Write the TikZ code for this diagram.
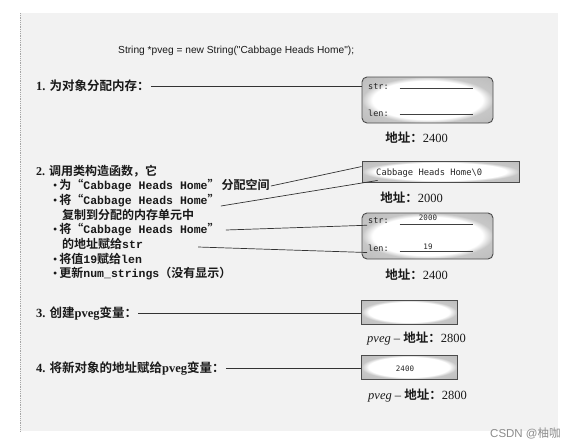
\documentclass[tikz,border=0pt]{standalone}
\usepackage{fontspec}
\setmainfont{Liberation Serif}
\newfontfamily\zhfont{Noto Sans CJK SC}[BoldFont={* Bold}]
\newfontfamily\monob{Liberation Mono}
\newfontfamily\boxmono{DejaVu Sans Mono}
\newfontfamily\codefont{Liberation Sans}
\newcommand\zh[1]{{\zhfont\bfseries #1}}
\newcommand\mb[1]{{\monob\bfseries\fontsize{11.5}{14}\selectfont #1}}
\usetikzlibrary{calc}
\pgfdeclareradialshading{boxglow}{\pgfpoint{0bp}{0bp}}{color(0bp)=(white); color(21bp)=(white); color(25bp)=(black!22); color(50bp)=(black!32)}
\begin{document}
\begin{tikzpicture}[x=1pt,y=-1pt,
  txt/.style={inner sep=1pt, text=black!90, anchor=west},
  head/.style={txt, font=\fontsize{12.5}{14}\selectfont},
  bul/.style={txt, font=\fontsize{12}{14}\selectfont},
  addr/.style={inner sep=1pt, text=black!90, font=\fontsize{12.5}{14}\selectfont},
  membox/.style={draw=black!70, line width=0.9pt, shade, shading=boxglow, rounded corners=5pt, minimum width=131pt, minimum height=46pt, inner sep=0pt},
  strbox/.style={draw=black!70, line width=0.9pt, shade, shading=boxglow, minimum width=157pt, minimum height=21pt, inner sep=0pt},
  varbox/.style={draw=black!70, line width=0.9pt, shade, shading=boxglow, minimum width=96pt, minimum height=24pt, inner sep=0pt},
  fld/.style={inner sep=1pt, anchor=west, font=\boxmono\fontsize{8.5}{10}\selectfont, text=black!85},
  val/.style={inner sep=0.5pt, font=\boxmono\fontsize{7.5}{9}\selectfont, text=black!85},
  conn/.style={draw=black!80, line width=0.7pt},
  fieldline/.style={draw=black!75, line width=0.6pt}
]
\fill[white] (0,0) rectangle (570,445);
\useasboundingbox (0,0) rectangle (570,445);
\fill[black!5] (20,13) rectangle (558,431);
\draw[black!35, densely dotted, line width=0.8pt] (20,13) -- (20,431);

\node[txt, font=\codefont\fontsize{10.2}{12}\selectfont] (code) at (117,51) {String *pveg = new String("Cabbage Heads Home");};

% step 1
\node[membox] (box1) at (427.5,100) {};
\node[fld] (b1str) at (367,87) {str:};
\node[fld] (b1len) at (367,113) {len:};
\draw[fieldline] ($(box1.north west)+(38,12)$) -- ++(73,0);
\draw[fieldline] ($(box1.north west)+(38,38)$) -- ++(73,0);
\node[head] (s1) at (35,86) {{\bfseries 1.} \zh{为对象分配内存：}};
\draw[conn] (s1.east) -- (s1.east -| box1.west);
\node[addr] (a1) at (416.5,138) {\zh{地址：}2400};

% step 2
\node[head, font=\fontsize{12}{14}\selectfont] (s2) at (35,171) {{\bfseries 2.} \zh{调用类构造函数，它}};
\node[bul] (l1) at (52,186) {•\,\zh{为“}\mb{Cabbage Heads Home}\zh{”\,分配空间}};
\node[bul] (l2) at (52,201) {•\,\zh{将“}\mb{Cabbage Heads Home}\zh{”}};
\node[bul] (l2c) at (61,215) {\zh{复制到分配的内存单元中}};
\node[bul] (l3) at (52,230) {•\,\zh{将“}\mb{Cabbage Heads Home}\zh{”}};
\node[bul] (l3c) at (61,244) {\zh{的地址赋给}\mb{str}};
\node[bul] (l4) at (52,259) {•\,\zh{将值}\mb{19}\zh{赋给}\mb{len}};
\node[bul] (l5) at (52,274) {•\,\zh{更新}\mb{num\_strings}\zh{（没有显示）}};

\node[strbox] (box2) at (440.5,171.5) {};
\node[fld, font=\boxmono\fontsize{8.8}{10}\selectfont] (cbtext) at (375,173) {Cabbage Heads Home\textbackslash0};
\node[addr] (a2) at (411.5,198) {\zh{地址：}2000};

\node[membox] (box3) at (427.5,236) {};
\node[fld] (b3str) at (367,221) {str:};
\node[fld] (b3len) at (367,248) {len:};
\draw[fieldline] ($(box3.north west)+(38,12)$) -- ++(73,0);
\draw[fieldline] ($(box3.north west)+(38,39)$) -- ++(73,0);
\node[val] (v1) at (428,218) {2000};
\node[val] (v2) at (428,247) {19};
\node[addr] (a3) at (416.5,275) {\zh{地址：}2400};

\draw[conn] (l1.east) -- ($(box2.north west)+(0,6)$);
\coordinate (c2s) at ($(l2.east)+(0,5)$);
\draw[conn] (c2s) -- ($(box2.south west)+(16,-2)$);
\draw[conn] ($(l3.east)+(5,0)$) -- (b3str.south west);
\coordinate (c4s) at ($(l3c.east)+(54,3)$);
\draw[conn] (c4s) -- (b3len.south west);

% step 3
\node[head] (s3) at (35,313) {{\bfseries 3.} \zh{创建}{\bfseries pveg}\zh{变量：}};
\node[varbox] (box4) at (409,312) {};
\draw[conn] (s3.east) -- (s3.east -| box4.west);
\node[addr, anchor=west] (a4) at (366,339) {\textit{pveg} – \zh{地址：}2800};

% step 4
\node[head] (s4) at (35,368) {{\bfseries 4.} \zh{将新对象的地址赋给}{\bfseries pveg}\zh{变量：}};
\node[varbox] (box5) at (409,367) {};
\node[val] (v3) at (405,369) {2400};
\draw[conn] (s4.east) -- (s4.east -| box5.west);
\node[addr, anchor=west] (a5) at (367,396) {\textit{pveg} – \zh{地址：}2800};

\node[inner sep=0pt, anchor=west, text=black!45, font=\codefont\fontsize{11.5}{13}\selectfont] (wm) at (490,433) {CSDN @{\zhfont 柚咖}};
\end{tikzpicture}
\end{document}
